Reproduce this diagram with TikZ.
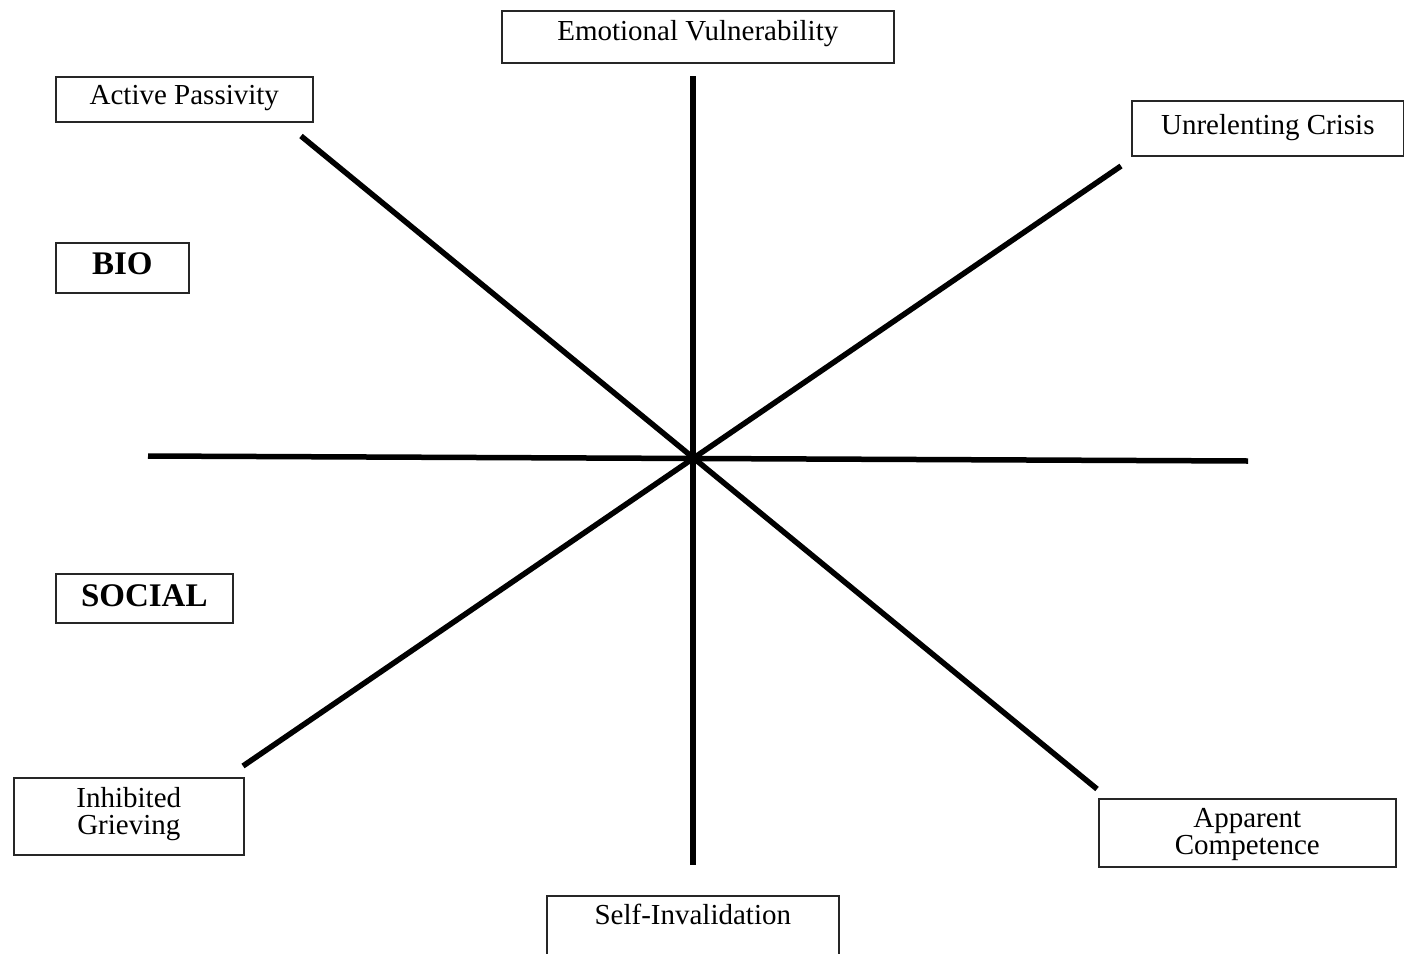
\documentclass[tikz,border=0pt]{standalone}
\usepackage{fontspec}
\setmainfont{Liberation Serif}
\begin{document}
\begin{tikzpicture}[x=1pt,y=-1pt,
  tag/.style={draw=black!85, line width=1.6pt, inner sep=0pt, align=center,
    font=\fontsize{29}{27}\selectfont},
  heading/.style={tag, font=\fontsize{33}{35}\selectfont\bfseries},
  spoke/.style={line width=5.5pt, black}]
\useasboundingbox (0,0) rectangle (1404,953);
\clip (0,0) rectangle (1404,953);

% category boxes (text height/depth measured from the last baseline)
\node[tag, anchor=north west, minimum width=392pt, text height=30pt, text depth=22pt]
  (ev) at (501,10) {Emotional Vulnerability};
\node[tag, anchor=north west, minimum width=257pt, text height=28pt, text depth=17pt]
  (ap) at (55,76) {Active Passivity};
\node[tag, anchor=north west, minimum width=272pt, text height=34pt, text depth=21pt]
  (uc) at (1131,100) {Unrelenting Crisis};
\node[heading, anchor=north west, minimum width=133pt, text height=32pt, text depth=18pt]
  (bio) at (55,242) {BIO};
\node[heading, anchor=north west, minimum width=177pt, text height=33pt, text depth=16pt]
  (soc) at (55,573) {SOCIAL};
\node[tag, anchor=north west, minimum width=230pt, text height=57pt, text depth=20pt]
  (ig) at (13,777) {Inhibited\\Grieving};
\node[tag, anchor=north west, minimum width=297pt, text height=56pt, text depth=12pt]
  (ac) at (1098,798) {Apparent\\Competence};
\node[tag, anchor=north west, minimum width=292pt, text height=29pt, text depth=60pt]
  (si) at (546,895) {Self-Invalidation};

% spoke end points
\coordinate (n) at (693,76);
\coordinate (s) at (693,865);
\coordinate (w) at (148,456);
\coordinate (e) at (1248,461);
\coordinate (nw) at (301,136);
\coordinate (se) at (1097,789);
\coordinate (ne) at (1121,166);
\coordinate (sw) at (243,766);

% spokes
\draw[spoke] (n) -- (s);
\draw[spoke] (w) -- (e);
\draw[spoke] (nw) -- (se);
\draw[spoke] (ne) -- (sw);
\end{tikzpicture}
\end{document}
